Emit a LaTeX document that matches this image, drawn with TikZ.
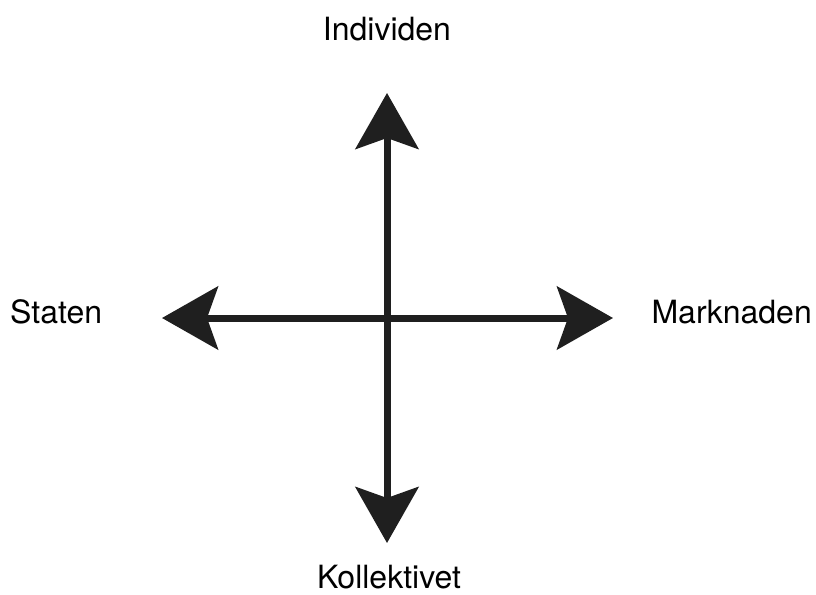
\documentclass[tikz,border=0pt]{standalone}
\usepackage{fontspec}
\setmainfont{TeX Gyre Heros}
\usetikzlibrary{arrows.meta}

\tikzset{
    axis/.style={line width=7pt,draw=black!88,
        {Stealth[length=56pt,width=63pt,inset=11pt]}-{Stealth[length=56pt,width=63pt,inset=11pt]}},
    pole/.style={inner sep=0pt,font=\fontsize{32}{38}\selectfont}
}

\begin{document}
\begin{tikzpicture}[x=1pt,y=-1pt]
            \useasboundingbox (0,0) rectangle (816,594);
            \coordinate (top) at (387,93);
            \coordinate (bottom) at (387,543);
            \coordinate (left) at (162,318);
            \coordinate (right) at (613,318);
            \node[pole,anchor=base] (individ) at (387,41) {Individen};
            \node[pole,anchor=base] (kollektiv) at (389,588) {Kollektivet};
            \node[pole,anchor=base west] (stat) at (10,323) {Staten};
            \node[pole,anchor=base east] (marknad) at (812,323) {Marknaden};
            \draw[axis] (bottom) -- (top);
            \draw[axis] (left) -- (right);
        \end{tikzpicture}
\end{document}
